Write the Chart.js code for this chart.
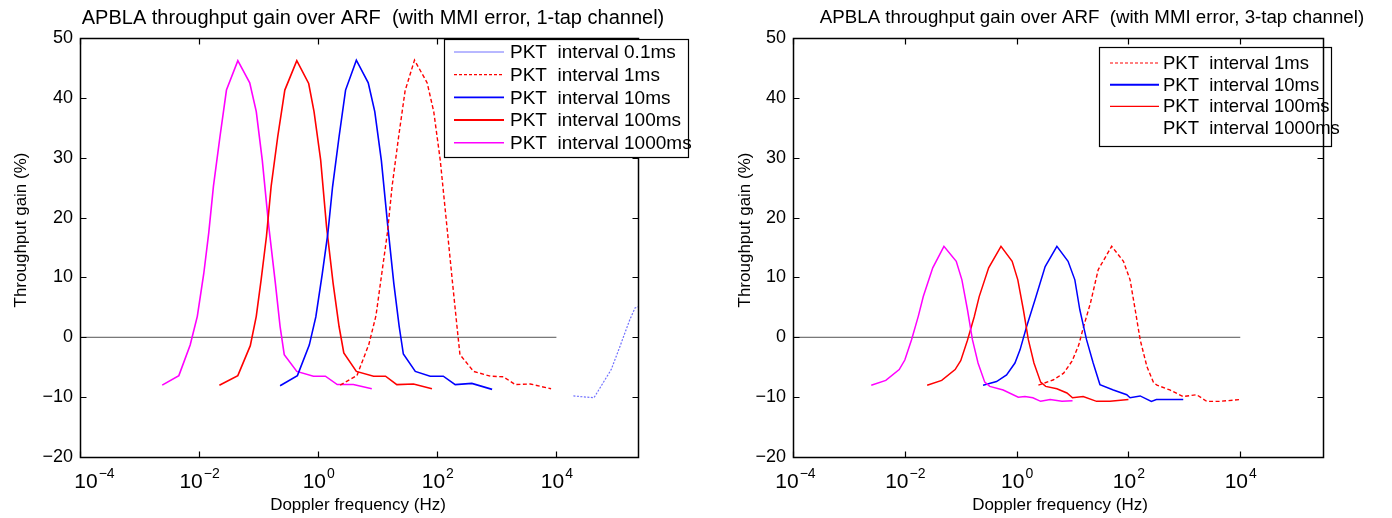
<!DOCTYPE html>
<html>
<head>
<meta charset="utf-8">
<script src="https://cdn.jsdelivr.net/npm/chart.js@4"></script>
<style>
  body { margin: 0; background: #fff; width: 1392px; height: 518px; overflow: hidden; position: relative; }
  canvas { position: absolute; top: 0; }
  #c1 { left: 0; }
  #c2 { left: 700px; }
</style>
</head>
<body>
<canvas id="c1" width="700" height="518"></canvas>
<canvas id="c2" width="692" height="518"></canvas>
<script>
// axis ticks
const ticksX = [1e-4, 1e-2, 1, 1e2, 1e4];
const tickExpX = ['\u22124', '\u22122', '0', '2', '4'];
const ticksY = [-20, -10, 0, 10, 20, 30, 40, 50];
const zeroLineX = [1e-4, 1e4];

// left panel: 1-tap channel (Doppler Hz / gain %)
const leftFreq01 = [19300, 42700, 83200, 117000, 170000, 209000, 240000];
const leftGain01 = [-9.8, -10.1, -5.4, -1.5, 2.9, 4.9, 5.1];
const leftFreq1 = [2.34, 4.47, 7.08, 9.33, 11.7, 14.5, 17.4, 22.4, 28.8, 41.4, 67.6, 87.1, 112, 145, 178, 214, 240, 407, 776, 1290, 2040, 3630, 8130];
const leftGain1 = [-8.0, -6.4, -1.2, 3.6, 10.7, 17.4, 25.2, 33.5, 41.2, 46.3, 42.5, 37.7, 29.6, 18.5, 9.6, 1.8, -2.9, -5.7, -6.5, -6.6, -7.9, -7.8, -8.6];
const leftFreq10 = [0.229, 0.447, 0.708, 0.912, 1.17, 1.45, 1.74, 2.24, 2.88, 4.37, 6.92, 8.91, 11.5, 14.8, 18.6, 22.9, 26.9, 42.7, 75.9, 126, 200, 380, 832];
const leftGain10 = [-8.1, -6.4, -1.3, 3.4, 10.6, 17.3, 25.1, 33.5, 41.3, 46.3, 42.5, 37.7, 29.5, 18.4, 9.0, 1.8, -2.8, -5.7, -6.5, -6.5, -7.9, -7.7, -8.7];
const leftFreq100 = [0.0219, 0.0447, 0.0724, 0.0912, 0.110, 0.135, 0.162, 0.209, 0.275, 0.437, 0.692, 0.851, 1.10, 1.38, 1.78, 2.24, 2.69, 4.37, 8.51, 13.5, 20.9, 39.8, 81.3];
const leftGain100 = [-8.0, -6.4, -1.4, 3.5, 9.6, 16.8, 25.2, 33.5, 41.3, 46.2, 42.4, 37.7, 29.6, 18.5, 9.0, 1.8, -2.6, -5.7, -6.5, -6.5, -7.9, -7.8, -8.6];
const leftFreq1000 = [0.0024, 0.00457, 0.00708, 0.00933, 0.0120, 0.0145, 0.0174, 0.0224, 0.0288, 0.0447, 0.0708, 0.0912, 0.115, 0.148, 0.191, 0.229, 0.269, 0.437, 0.832, 1.32, 2.09, 3.89, 7.94];
const leftGain1000 = [-8.0, -6.4, -1.3, 3.5, 10.7, 17.4, 25.2, 33.5, 41.3, 46.2, 42.5, 37.7, 29.6, 18.5, 9.0, 1.8, -2.9, -5.7, -6.5, -6.5, -7.9, -7.9, -8.6];

// right panel: 3-tap channel
const rightFreq1 = [2.45, 4.57, 6.92, 9.77, 12.9, 15.8, 20.9, 28.8, 50.1, 81.3, 107, 132, 162, 214, 282, 324, 550, 955, 1660, 2510, 4370, 10000];
const rightGain1 = [-8.0, -7.1, -6.0, -4.0, -1.3, 1.8, 5.7, 11.3, 15.2, 12.7, 9.6, 4.6, -0.4, -4.9, -7.6, -8.0, -8.8, -9.9, -9.6, -10.7, -10.7, -10.4];
const rightFreq10 = [0.251, 0.437, 0.661, 0.933, 1.15, 1.51, 2.14, 3.24, 5.25, 8.32, 11.0, 13.5, 17.8, 23.4, 30.9, 53.7, 93.3, 107, 162, 257, 316, 955];
const rightGain10 = [-8.0, -7.4, -6.3, -4.3, -2.1, 1.8, 6.3, 11.8, 15.2, 12.7, 9.6, 4.6, -0.4, -4.3, -7.9, -8.8, -9.6, -10.1, -9.8, -10.7, -10.4, -10.4];
const rightFreq100 = [0.0251, 0.0457, 0.0794, 0.1, 0.132, 0.174, 0.214, 0.316, 0.525, 0.832, 1.05, 1.32, 1.62, 2.04, 2.69, 3.31, 5.25, 7.94, 10, 15.5, 26.9, 46.8, 100];
const rightGain100 = [-8.0, -7.2, -5.4, -3.9, -0.5, 3.4, 6.8, 11.6, 15.2, 12.7, 9.6, 4.6, -0.4, -4.3, -7.5, -8.2, -8.6, -9.3, -10.1, -9.9, -10.7, -10.7, -10.4];
const rightFreq1000 = [0.00251, 0.00457, 0.00794, 0.01, 0.0132, 0.0174, 0.0214, 0.0316, 0.0501, 0.0832, 0.105, 0.132, 0.162, 0.204, 0.269, 0.331, 0.575, 1.07, 1.41, 1.95, 2.69, 3.98, 6.46, 10];
const rightGain1000 = [-8.0, -7.2, -5.4, -3.8, -0.4, 3.5, 6.8, 11.6, 15.2, 12.7, 9.6, 4.6, -0.4, -4.3, -7.5, -8.2, -8.8, -10.0, -9.9, -10.1, -10.7, -10.4, -10.7, -10.6];

const leftLegend = ['PKT  interval 0.1ms', 'PKT  interval 1ms', 'PKT  interval 10ms', 'PKT  interval 100ms', 'PKT  interval 1000ms'];
const rightLegend = ['PKT  interval 1ms', 'PKT  interval 10ms', 'PKT  interval 100ms', 'PKT  interval 1000ms'];

const FONT = "'Liberation Sans', Arial, sans-serif";
const RED = '#ff0000', BLUE = '#0000ff', MAGENTA = '#ff00ff', LIGHTBLUE = '#7070ff';

function pts(xs, ys) {
    return xs.map((x, i) => ({ x: x, y: ys[i] }));
}

function line(xs, ys, color, dash, width) {
    return {
        data: pts(xs, ys),
        borderColor: color,
        borderDash: dash || [],
        borderWidth: width || 1.5,
        pointRadius: 0,
        tension: 0,
        fill: false
    };
}

function zeroLine() {
    return line(zeroLineX, [0, 0], '#555555', [], 1);
}

// axes box, inward ticks, 10^n labels, titles and legend (MATLAB look)
const figurePlugin = {
    id: 'figure',
    afterDatasetsDraw(chart, args, o) {
        if (o.legendUnder) drawLegend(chart, o);
        drawFrame(chart);
    },
    afterDraw(chart, args, o) {
        if (!o.legendUnder) drawLegend(chart, o);
        const ctx = chart.ctx;
        ctx.save();
        ctx.fillStyle = '#000';
        ctx.textAlign = 'center';
        ctx.textBaseline = 'middle';
        ctx.font = o.titleSize + 'px ' + FONT;
        ctx.fillText(o.title, o.titleX, 18);
        ctx.font = '17px ' + FONT;
        ctx.fillText('Doppler frequency (Hz)', o.xlabelX, 505);
        ctx.save();
        ctx.translate(o.ylabelX, o.ylabelY);
        ctx.rotate(-Math.PI / 2);
        ctx.fillText('Throughput gain (%)', 0, 0);
        ctx.restore();

        // x tick labels as 10 with a raised exponent
        const xs = chart.scales.x;
        ctx.textAlign = 'left';
        ctx.textBaseline = 'alphabetic';
        ticksX.forEach((v, i) => {
            ctx.font = '21px ' + FONT;
            const wb = ctx.measureText('10').width;
            ctx.font = '14px ' + FONT;
            const we = ctx.measureText(tickExpX[i]).width;
            let x0 = xs.getPixelForValue(v) - (wb + we) / 2;
            if (i === 0) x0 += o.firstShift;
            ctx.font = '21px ' + FONT;
            ctx.fillText('10', x0, 488);
            ctx.font = '14px ' + FONT;
            ctx.fillText(tickExpX[i], x0 + wb + 1, 478);
        });
        ctx.restore();
    }
};

function drawFrame(chart) {
    const ctx = chart.ctx;
    const a = chart.chartArea;
    const xs = chart.scales.x, ys = chart.scales.y;
    const L = Math.round(a.left) + 0.5, R = Math.round(a.right) + 0.5;
    const T = Math.round(a.top) + 0.5, B = Math.round(a.bottom) + 0.5;
    ctx.save();
    ctx.strokeStyle = '#000';
    ctx.lineWidth = 1.5;
    ctx.strokeRect(L, T, R - L, B - T);
    ctx.lineWidth = 1.2;
    ctx.beginPath();
    ticksY.forEach(v => {
        const y = Math.round(ys.getPixelForValue(v)) + 0.5;
        ctx.moveTo(L, y); ctx.lineTo(L + 6, y);
        ctx.moveTo(R, y); ctx.lineTo(R - 6, y);
    });
    ticksX.forEach(v => {
        const x = Math.round(xs.getPixelForValue(v)) + 0.5;
        ctx.moveTo(x, B); ctx.lineTo(x, B - 6);
        ctx.moveTo(x, T); ctx.lineTo(x, T + 6);
    });
    ctx.stroke();
    ctx.restore();
}

function drawLegend(chart, o) {
    const ctx = chart.ctx;
    const b = o.legendBox;
    ctx.save();
    ctx.fillStyle = '#fff';
    ctx.fillRect(b.x, b.y, b.w, b.h);
    ctx.strokeStyle = '#000';
    ctx.lineWidth = 1.2;
    ctx.strokeRect(b.x + 0.5, b.y + 0.5, b.w, b.h);
    ctx.font = b.size + 'px ' + FONT;
    ctx.textBaseline = 'middle';
    o.legendItems.forEach((it, i) => {
        const y = b.y + b.first + i * b.step;
        if (it.color) {
            ctx.strokeStyle = it.color;
            ctx.lineWidth = it.width;
            ctx.setLineDash(it.dash);
            ctx.beginPath();
            ctx.moveTo(b.x + b.lineX0, y);
            ctx.lineTo(b.x + b.lineX1, y);
            ctx.stroke();
            ctx.setLineDash([]);
        }
        ctx.fillStyle = '#000';
        ctx.fillText(it.label, b.x + b.textX, y + 1);
    });
    ctx.restore();
}

function makeOptions(xMax, yWidth, padRight, fig) {
    return {
        responsive: false,
        animation: false,
        layout: { padding: { left: 0, right: padRight, top: 38, bottom: 0 } },
        plugins: { legend: { display: false }, tooltip: { enabled: false }, figure: fig },
        scales: {
            x: {
                type: 'logarithmic',
                min: 1e-4,
                max: xMax,
                afterBuildTicks: s => { s.ticks = ticksX.map(v => ({ value: v })); },
                afterFit: s => { s.height = 61; },
                grid: { display: false, drawTicks: false },
                border: { display: false },
                ticks: { display: false }
            },
            y: {
                min: -20,
                max: 50,
                afterBuildTicks: s => { s.ticks = ticksY.map(v => ({ value: v })); },
                afterFit: s => { s.width = yWidth; },
                grid: { display: false, drawTicks: false },
                border: { display: false },
                ticks: {
                    padding: 7, color: '#000',
                    font: { family: FONT, size: 18 },
                    callback: v => String(v).replace('-', '\u2212')
                }
            }
        }
    };
}

new Chart(document.getElementById('c1'), {
    type: 'line',
    data: {
        datasets: [
            line(leftFreq01, leftGain01, LIGHTBLUE, [2, 1.5], 1.2),
            line(leftFreq1, leftGain1, RED, [4, 2.5], 1.4),
            line(leftFreq10, leftGain10, BLUE, [], 1.6),
            line(leftFreq100, leftGain100, RED, [], 1.6),
            line(leftFreq1000, leftGain1000, MAGENTA, [], 1.6),
            zeroLine()
        ]
    },
    plugins: [figurePlugin],
    options: makeOptions(Math.pow(10, 5.37), 80, 62, {
        title: 'APBLA throughput gain over ARF  (with MMI error, 1-tap channel)',
        titleSize: 20, titleX: 373, xlabelX: 358, ylabelX: 21, ylabelY: 230,
        firstShift: 14,
        legendUnder: false,
        legendBox: { x: 444, y: 39, w: 244, h: 118, first: 13, step: 22.7, lineX0: 10, lineX1: 60, textX: 66, size: 19 },
        legendItems: [
            { label: leftLegend[0], color: LIGHTBLUE, dash: [], width: 1 },
            { label: leftLegend[1], color: RED, dash: [3, 2], width: 1.2 },
            { label: leftLegend[2], color: BLUE, dash: [], width: 1.6 },
            { label: leftLegend[3], color: RED, dash: [], width: 2 },
            { label: leftLegend[4], color: MAGENTA, dash: [], width: 1.4 }
        ]
    })
});

new Chart(document.getElementById('c2'), {
    type: 'line',
    data: {
        datasets: [
            line(rightFreq1000, rightGain1000, MAGENTA, [], 1.5),
            line(rightFreq100, rightGain100, RED, [], 1.5),
            line(rightFreq10, rightGain10, BLUE, [], 1.5),
            line(rightFreq1, rightGain1, RED, [4, 2.5], 1.4),
            zeroLine()
        ]
    },
    plugins: [figurePlugin],
    options: makeOptions(Math.pow(10, 5.48), 93, 69, {
        title: 'APBLA throughput gain over ARF  (with MMI error, 3-tap channel)',
        titleSize: 18.7, titleX: 392, xlabelX: 360, ylabelX: 45, ylabelY: 230,
        firstShift: 2,
        legendUnder: true,
        legendBox: { x: 399, y: 47, w: 232, h: 99, first: 16, step: 21.7, lineX0: 11, lineX1: 60, textX: 64, size: 18.5 },
        legendItems: [
            { label: rightLegend[0], color: RED, dash: [3, 2], width: 1.2 },
            { label: rightLegend[1], color: BLUE, dash: [], width: 2 },
            { label: rightLegend[2], color: RED, dash: [], width: 1.4 },
            { label: rightLegend[3], color: null, dash: [], width: 0 }
        ]
    })
});
</script>
</body>
</html>
